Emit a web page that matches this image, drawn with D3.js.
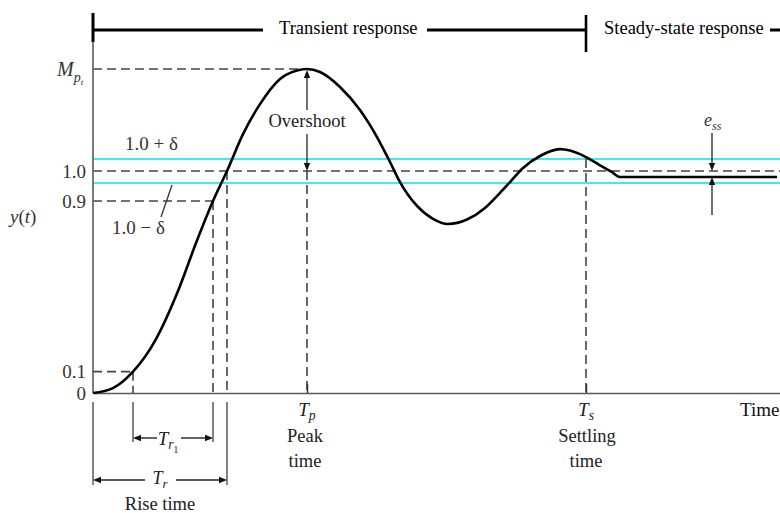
<!DOCTYPE html>
<html><head><meta charset="utf-8">
<script src="https://cdn.jsdelivr.net/npm/d3@7"></script>
<style>body{margin:0;background:#fff} svg{display:block}</style>
</head><body><svg id="chart" width="780" height="513"></svg>
<script>
// Step response of an underdamped second-order system (time in ms).
const timeMs = [0, 20, 40, 63, 85, 103, 120, 134, 150, 167, 187, 204, 214,
  227, 247, 267, 284, 297, 307, 324, 340, 355, 374, 392, 407, 417, 430, 447, 467, 477, 492, 507, 519, 527, 547, 684];
const response = [0, 0.023, 0.1, 0.253, 0.478, 0.703, 0.9, 1.0, 1.123, 1.223, 1.307, 1.335, 1.34,
  1.33, 1.28, 1.203, 1.113, 1.03, 0.963, 0.877, 0.816, 0.792, 0.813, 0.867, 0.927, 0.963, 1.01, 1.05, 1.073, 1.068, 1.048, 1.019, 0.996, 0.98, 0.98, 0.98];

const yTicks = [0, 0.1, 0.9, 1.0];
const yTickLabels = ["0", "0.1", "0.9", "1.0"];

const peakValue = 1.34;      // M_pt
const finalValue = 0.98;     // steady-state value
const delta = 0.04;          // tolerance band half-width
const t10 = 40, t90 = 120, tRise = 134, tPeak = 214, tSettle = 493, tMax = 687;

const svg = d3.select("#chart");
const serif = "'Liberation Serif', 'Times New Roman', serif";
const ink = "#222", axisGray = "#5a5a5a", dashGray = "#444", cyan = "#45e8f0";

const x = d3.scaleLinear().domain([0, tMax]).range([93, 780]);
// piecewise scale: the band around the final value is drawn enlarged
const y = d3.scaleLinear().domain([0, 0.9, peakValue]).range([393, 201, 69]);

const x0 = x(0), yBase = y(0);

function arrowHead(px, py, dir) {
  const L = 8, W = 3.2;
  let pts;
  if (dir === "up") pts = [[px, py], [px - W, py + L], [px + W, py + L]];
  else if (dir === "down") pts = [[px, py], [px - W, py - L], [px + W, py - L]];
  else if (dir === "left") pts = [[px, py], [px + L, py - W], [px + L, py + W]];
  else pts = [[px, py], [px - L, py - W], [px - L, py + W]];
  svg.append("path").attr("d", "M" + pts.join("L") + "Z").attr("fill", "#111");
}
function seg(x1, y1, x2, y2, color, w, dash) {
  const l = svg.append("line").attr("x1", x1).attr("y1", y1).attr("x2", x2).attr("y2", y2)
    .attr("stroke", color).attr("stroke-width", w);
  if (dash) l.attr("stroke-dasharray", dash);
  return l;
}
function label(px, py, str, opts = {}) {
  return svg.append("text").attr("x", px).attr("y", py)
    .attr("font-family", serif).attr("font-size", opts.size || 18.5)
    .attr("fill", opts.fill || ink).attr("text-anchor", opts.anchor || "start")
    .attr("font-style", opts.italic ? "italic" : null)
    .text(str);
}
// T with subscripts, e.g. T_p
function subLabel(px, py, main, sub, sub2, size = 19) {
  const t = svg.append("text").attr("x", px).attr("y", py)
    .attr("font-family", serif).attr("font-size", size).attr("fill", ink)
    .attr("font-style", "italic").attr("text-anchor", "middle");
  t.append("tspan").text(main);
  t.append("tspan").attr("font-size", size * 0.72).attr("dy", 4).text(sub);
  if (sub2) t.append("tspan").attr("font-size", size * 0.5).attr("dy", 4).attr("font-style", "normal").text(sub2);
  return t;
}

// tolerance band
[1 + delta, 1 - delta].forEach(v => seg(x0, y(v), 780, y(v), cyan, 2.2));

// dashed reference lines
const dash = "9,5";
seg(x0, y(1.0), 780, y(1.0), dashGray, 1.6, dash);
seg(x0, y(peakValue), x(tPeak) - 6, y(peakValue), dashGray, 1.6, dash);
seg(x0, y(0.9), x(t90), y(0.9), dashGray, 1.6, dash);
seg(x0, y(0.1), x(t10), y(0.1), dashGray, 1.6, dash);
seg(x(t10), y(0.1), x(t10), yBase, dashGray, 1.6, dash);
seg(x(t90), y(0.9), x(t90), yBase, dashGray, 1.6, dash);
seg(x(tRise), y(1.0), x(tRise), yBase, dashGray, 1.6, dash);
seg(x(tPeak), y(1.0), x(tPeak), yBase, dashGray, 1.6, dash);
seg(x(tSettle), y(1 + delta), x(tSettle), yBase, dashGray, 1.6, dash);

// axes
seg(x0, 42, x0, yBase, axisGray, 1.6);
const yAxis = d3.axisLeft(y).tickValues(yTicks).tickSize(0).tickPadding(7)
  .tickFormat((d, i) => yTickLabels[i]);
const gy = svg.append("g").attr("transform", `translate(${x0},0)`).call(yAxis);
gy.select(".domain").remove();
gy.selectAll("text").attr("font-family", serif).attr("font-size", 19).attr("fill", "#333");

const xAxis = d3.axisBottom(x).tickValues([tPeak, tSettle]).tickSizeInner(-9).tickSizeOuter(0).tickFormat("");
const gx = svg.append("g").attr("transform", `translate(0,${yBase})`).call(xAxis);
gx.select(".domain").attr("stroke", axisGray).attr("stroke-width", 1.6);
gx.selectAll(".tick line").attr("stroke", "#333").attr("stroke-width", 1.5);

// response curve
const line = d3.line().x(d => x(d[0])).y(d => y(d[1])).curve(d3.curveMonotoneX);
svg.append("path").datum(timeMs.map((t, i) => [t, response[i]]))
  .attr("d", line).attr("fill", "none").attr("stroke", "#000").attr("stroke-width", 2.6);

// header bars
seg(x0, 30, 263, 30, "#000", 3);
seg(427, 30, x(tSettle), 30, "#000", 3);
seg(770, 30, 780, 30, "#000", 3);
seg(x0, 13, x0, 42, "#000", 3);
seg(x(tSettle), 15, x(tSettle), 52, "#000", 2.6);
label(279, 34, "Transient response", { fill: "#000" });
label(604, 34, "Steady-state response", { fill: "#000" });

// y labels
const mp = svg.append("text").attr("x", 57).attr("y", 76).attr("font-family", serif)
  .attr("font-size", 20).attr("fill", "#333").attr("font-style", "italic");
mp.append("tspan").text("M");
mp.append("tspan").attr("font-size", 14).attr("dy", 6).text("p");
mp.append("tspan").attr("font-size", 9).attr("dy", 3).text("t");

const yl = svg.append("text").attr("x", 10).attr("y", 223).attr("font-family", serif)
  .attr("font-size", 19).attr("fill", "#333");
yl.append("tspan").attr("font-style", "italic").text("y");
yl.append("tspan").text("(");
yl.append("tspan").attr("font-style", "italic").text("t");
yl.append("tspan").text(")");

label(125, 150, "1.0 + δ", { size: 19, fill: "#333" });
label(112, 234, "1.0 − δ", { size: 19, fill: "#333" });
seg(172, 185, 161, 217, "#333", 1.3);

// overshoot arrow
const xp = x(tPeak);
seg(xp, y(peakValue) + 6, xp, 110, "#222", 1.3);
arrowHead(xp, y(peakValue) + 1, "up");
label(xp, 127, "Overshoot", { anchor: "middle" });
seg(xp, 134, xp, y(1.0) - 6, "#222", 1.3);
arrowHead(xp, y(1.0), "down");

// steady-state error arrows
const xe = 712;
svg.append("text").attr("x", 704).attr("y", 126).attr("font-family", serif)
  .attr("font-size", 18).attr("fill", "#333").attr("font-style", "italic")
  .call(t => { t.append("tspan").text("e"); t.append("tspan").attr("font-size", 12).attr("dy", 4).text("ss"); });
seg(xe, 133, xe, y(1.0) - 6, "#222", 1.3);
arrowHead(xe, y(1.0), "down");
seg(xe, y(finalValue) + 6, xe, 215, "#222", 1.3);
arrowHead(xe, y(finalValue), "up");

// rise time dimension lines
seg(x0, 402, x0, 485, axisGray, 1.5);
seg(x(t10), 402, x(t10), 442, axisGray, 1.5);
seg(x(t90), 402, x(t90), 442, axisGray, 1.5);
seg(x(tRise), 402, x(tRise), 485, axisGray, 1.5);

const yTr1 = 438, yTr = 480;
seg(x(t10) + 4, yTr1, 157, yTr1, "#222", 1.4);
arrowHead(x(t10), yTr1, "left");
seg(181, yTr1, x(t90) - 4, yTr1, "#222", 1.4);
arrowHead(x(t90), yTr1, "right");
subLabel(168, 445, "T", "r", "1");

seg(x0 + 4, yTr, 145, yTr, "#222", 1.4);
arrowHead(x0, yTr, "left");
seg(176, yTr, x(tRise) - 4, yTr, "#222", 1.4);
arrowHead(x(tRise), yTr, "right");
subLabel(160, 484, "T", "r", null, 18);
label(160, 510, "Rise time", { anchor: "middle" });

// peak and settling time labels
subLabel(x(tPeak), 416, "T", "p");
label(x(tPeak) - 2, 442, "Peak", { anchor: "middle" });
label(x(tPeak) - 2, 467, "time", { anchor: "middle" });
subLabel(x(tSettle), 416, "T", "s");
label(x(tSettle) + 1, 442, "Settling", { anchor: "middle" });
label(x(tSettle), 467, "time", { anchor: "middle" });

label(740, 416, "Time", { size: 19, fill: "#111" });
</script></body></html>
